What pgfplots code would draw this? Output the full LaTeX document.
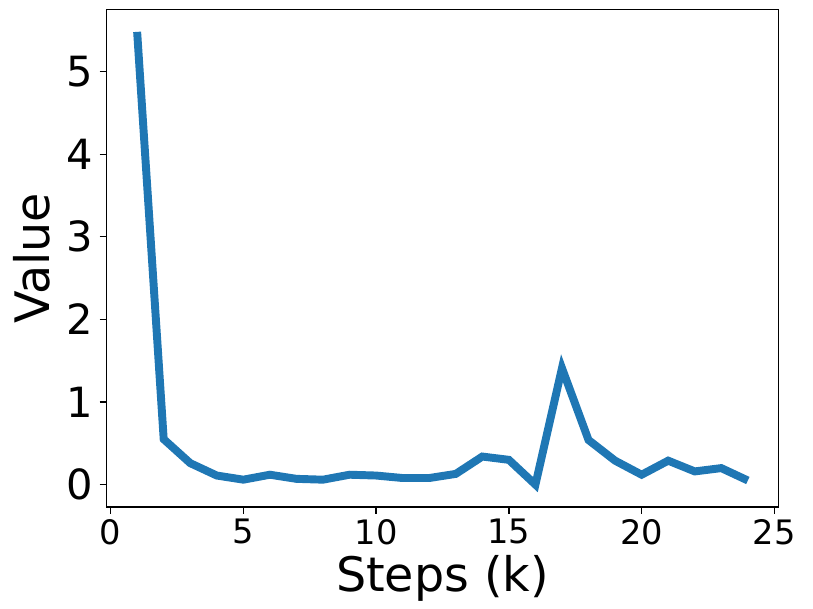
\documentclass[border=0pt]{standalone}
\usepackage{fontspec}
\setmainfont{DejaVu Sans}
\usepackage{pgfplots}
\pgfplotsset{compat=1.18}
\definecolor{mplblue}{HTML}{1F77B4}

\begin{document}
\begin{tikzpicture}
\begin{axis}[
scale only axis,
width=678pt, height=502pt,
xmin=-0.15, xmax=25.15,
ymin=-0.27, ymax=5.75,
xtick={0,5,10,15,20,25},
ytick={0,1,2,3,4,5},
tick align=outside,
tick pos=left,
major tick length=7pt,
every tick/.style={black, line width=1.3pt},
axis line style={line width=1.3pt},
/pgf/number format/assume math mode=true,
xticklabel style={font=\fontsize{34}{34}\selectfont, yshift=-2pt},
yticklabel style={font=\fontsize{42}{42}\selectfont, xshift=-3pt},
xlabel={Steps (k)},
ylabel={Value},
label style={font=\fontsize{48}{48}\selectfont},
xlabel style={yshift=-4pt},
ylabel style={yshift=10pt},
]
% loss curve
\addplot[mplblue, line width=8pt, line join=miter] coordinates {
(1,5.48) (2,0.55) (3,0.26) (4,0.11) (5,0.06) (6,0.12) (7,0.07) (8,0.06)
(9,0.12) (10,0.11) (11,0.08) (12,0.08) (13,0.13) (14,0.34) (15,0.30)
(16,0.00) (17,1.41) (18,0.54) (19,0.29) (20,0.12) (21,0.29) (22,0.16)
(23,0.20) (24,0.05)
};
\end{axis}
% white margin as in the saved figure
\path ([shift={(-10pt,-4pt)}]current bounding box.south west)
      ([shift={(14pt,9pt)}]current bounding box.north east);
\end{tikzpicture}
\end{document}
